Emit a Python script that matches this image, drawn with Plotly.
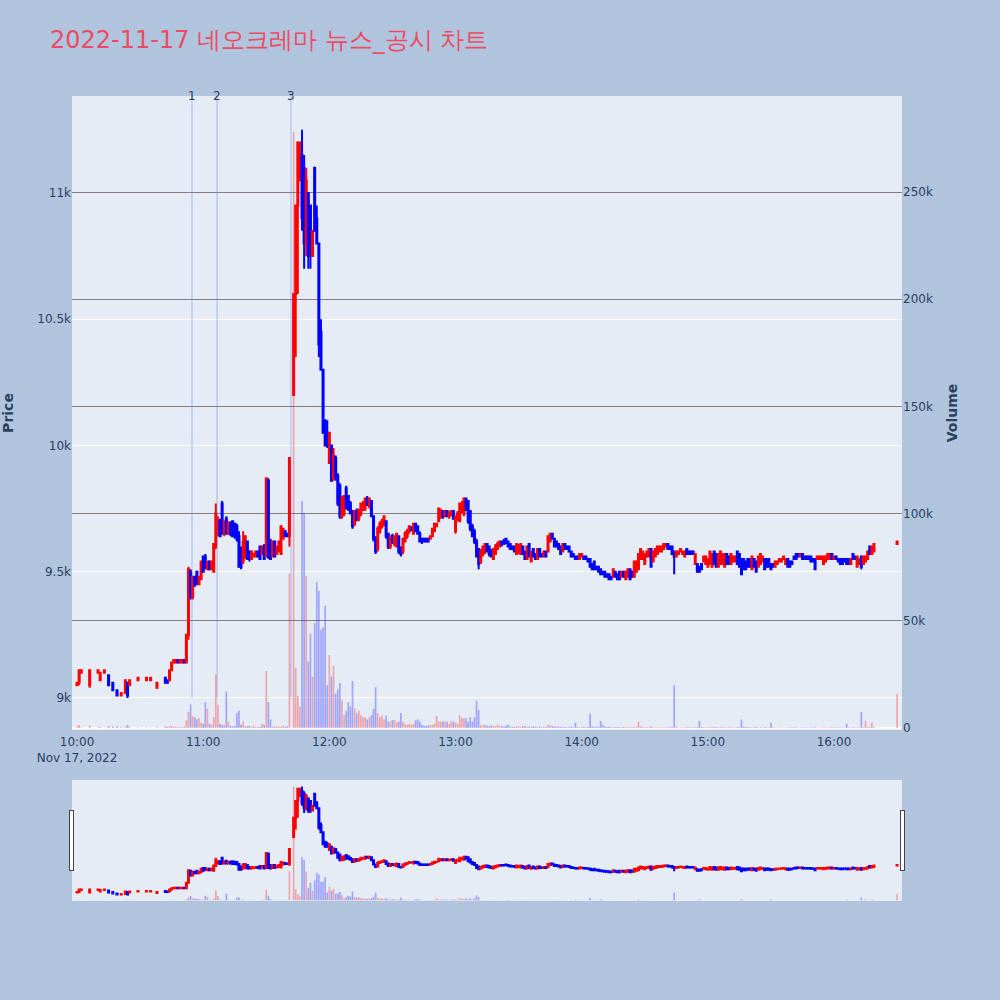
import plotly.graph_objects as go
from plotly.subplots import make_subplots

DAY = "2022-11-17"
TITLE = "2022-11-17 네오크레마 뉴스_공시 차트"

times = [
    "10:00", "10:01", "10:02", "10:06", "10:10", "10:11", "10:13", "10:15", "10:17", "10:19",
    "10:21", "10:23", "10:24", "10:25", "10:29", "10:33", "10:35", "10:38", "10:42", "10:43",
    "10:44", "10:45", "10:46", "10:47", "10:48", "10:49", "10:50", "10:51", "10:52", "10:53",
    "10:54", "10:55", "10:56", "10:57", "10:58", "10:59", "11:00", "11:01", "11:02", "11:03",
    "11:04", "11:05", "11:06", "11:07", "11:08", "11:09", "11:10", "11:11", "11:12", "11:13",
    "11:14", "11:15", "11:16", "11:17", "11:18", "11:19", "11:20", "11:21", "11:22", "11:23",
    "11:24", "11:25", "11:26", "11:27", "11:28", "11:29", "11:30", "11:31", "11:32", "11:33",
    "11:34", "11:35", "11:36", "11:37", "11:38", "11:39", "11:40", "11:41",
    "11:43", "11:44", "11:45", "11:46", "11:47", "11:48", "11:49", "11:50", "11:51", "11:52",
    "11:53", "11:54", "11:55", "11:56", "11:57", "11:58", "11:59", "12:00", "12:01", "12:02",
    "12:03", "12:04", "12:05", "12:06", "12:07", "12:08", "12:09", "12:10", "12:11", "12:12",
    "12:13", "12:14", "12:15", "12:16", "12:17", "12:18", "12:19", "12:20", "12:21", "12:22",
    "12:23", "12:24", "12:25", "12:26", "12:27", "12:28", "12:29", "12:30", "12:31", "12:32",
    "12:33", "12:34", "12:35", "12:36", "12:37", "12:38", "12:39", "12:40", "12:41", "12:42",
    "12:43", "12:44", "12:45", "12:46", "12:47", "12:48", "12:49", "12:50", "12:51", "12:52",
    "12:53", "12:54", "12:55", "12:56", "12:57", "12:58", "12:59", "13:00", "13:01", "13:02",
    "13:03", "13:04", "13:05", "13:06", "13:07", "13:08", "13:09", "13:10", "13:11", "13:12",
    "13:13", "13:14", "13:15", "13:16", "13:17", "13:18", "13:19", "13:20", "13:21", "13:22",
    "13:23", "13:24", "13:25", "13:26", "13:27", "13:28", "13:29", "13:30", "13:31", "13:32",
    "13:33", "13:34", "13:35", "13:36", "13:37", "13:38", "13:39", "13:40", "13:41", "13:42",
    "13:43", "13:44", "13:45", "13:46", "13:47", "13:48", "13:49", "13:50", "13:51", "13:52",
    "13:53", "13:54", "13:55", "13:56", "13:57", "13:58", "13:59", "14:00", "14:01", "14:02",
    "14:03", "14:04", "14:05", "14:06", "14:07", "14:08", "14:09", "14:10", "14:11", "14:12",
    "14:13", "14:14", "14:15", "14:16", "14:17", "14:18", "14:19", "14:20", "14:21", "14:22",
    "14:23", "14:24", "14:25", "14:26", "14:27", "14:28", "14:29", "14:30", "14:31", "14:32",
    "14:33", "14:34", "14:35", "14:36", "14:37", "14:38", "14:39", "14:40", "14:41", "14:42",
    "14:43", "14:44", "14:45", "14:46", "14:47", "14:48", "14:49", "14:50", "14:51", "14:52",
    "14:53", "14:54", "14:55", "14:56", "14:57", "14:58", "14:59", "15:00", "15:01", "15:02",
    "15:03", "15:04", "15:05", "15:06", "15:07", "15:08", "15:09", "15:10", "15:11", "15:12",
    "15:13", "15:14", "15:15", "15:16", "15:17", "15:18", "15:19", "15:20", "15:21", "15:22",
    "15:23", "15:24", "15:25", "15:26", "15:27", "15:28", "15:29", "15:30", "15:31", "15:32",
    "15:33", "15:34", "15:35", "15:36", "15:37", "15:38", "15:39", "15:40", "15:41", "15:42",
    "15:43", "15:44", "15:45", "15:46", "15:47", "15:48", "15:49", "15:50", "15:51", "15:52",
    "15:53", "15:54", "15:55", "15:56", "15:57", "15:58", "15:59", "16:00", "16:01", "16:02",
    "16:03", "16:04", "16:05", "16:06", "16:07", "16:08", "16:09", "16:10", "16:11", "16:12",
    "16:13", "16:14", "16:15", "16:16", "16:17", "16:18", "16:19", "16:30",
]

opens = [
    9050, 9060, 9100, 9050, 9100, 9070, 9100, 9090, 9060, 9030,
    9010, 9020, 9060, 9050, 9070, 9070, 9070, 9040, 9080, 9070,
    9070, 9110, 9140, 9140, 9150, 9140, 9140, 9150, 9140, 9250,
    9500, 9400, 9480, 9500, 9450, 9470, 9560, 9560, 9510, 9540,
    9510, 9500, 9600, 9650, 9700, 9770, 9650, 9710, 9650, 9690,
    9700, 9690, 9680, 9640, 9590, 9540, 9560, 9620, 9580, 9550,
    9560, 9560, 9580, 9600, 9570, 9600, 9560, 9860, 9620, 9560,
    9620, 9570, 9580, 9570, 9630, 9660, 9650, 9640,
    10200, 10600, 10950, 11050, 11150, 11100, 10800, 11000, 10950, 10750,
    11100, 10900, 10800, 10450, 10300, 10100, 10050, 9930, 10000, 9870,
    9950, 9880, 9840, 9720, 9730, 9830, 9800, 9770, 9740, 9690,
    9740, 9710, 9730, 9750, 9750, 9790, 9760, 9780, 9720, 9630,
    9590, 9660, 9680, 9690, 9700, 9650, 9600, 9640, 9610, 9600,
    9640, 9580, 9580, 9620, 9640, 9660, 9670, 9650, 9690, 9680,
    9650, 9630, 9630, 9630, 9630, 9630, 9640, 9660, 9680, 9700,
    9720, 9740, 9720, 9740, 9720, 9730, 9740, 9660, 9710, 9700,
    9740, 9730, 9790, 9780, 9740, 9680, 9660, 9620, 9590, 9540,
    9570, 9580, 9610, 9600, 9580, 9550, 9570, 9590, 9600, 9620,
    9620, 9630, 9620, 9610, 9600, 9600, 9570, 9580, 9570, 9600,
    9580, 9550, 9610, 9540, 9590, 9570, 9550, 9590, 9570, 9560,
    9580, 9580, 9620, 9650, 9630, 9620, 9610, 9600, 9580, 9610,
    9600, 9600, 9580, 9570, 9560, 9560, 9550, 9560, 9560, 9560,
    9550, 9550, 9530, 9540, 9520, 9520, 9510, 9500, 9500, 9490,
    9490, 9480, 9480, 9500, 9490, 9500, 9480, 9500, 9470, 9480,
    9510, 9500, 9480, 9500, 9510, 9550, 9550, 9530, 9560, 9560,
    9590, 9540, 9560, 9570, 9580, 9580, 9590, 9600, 9610, 9600,
    9600, 9580, 9560, 9570, 9580, 9570, 9560, 9590, 9580, 9580,
    9580, 9530, 9530, 9520, 9530, 9540, 9530, 9520, 9530, 9520,
    9580, 9570, 9520, 9530, 9530, 9520, 9570, 9560, 9530, 9540,
    9540, 9580, 9570, 9550, 9550, 9540, 9550, 9550, 9510, 9550,
    9540, 9520, 9530, 9540, 9550, 9550, 9550, 9530, 9530, 9520,
    9530, 9540, 9540, 9550, 9530, 9550, 9540, 9540, 9560, 9570,
    9570, 9560, 9570, 9560, 9560, 9560, 9560, 9550, 9550, 9550,
    9550, 9550, 9530, 9540, 9550, 9550, 9570, 9550, 9560, 9550,
    9550, 9550, 9550, 9550, 9550, 9530, 9570, 9560, 9520, 9530,
    9560, 9530, 9540, 9550, 9600, 9570, 9580, 9610,
]

highs = [
    9060, 9110, 9110, 9110, 9110, 9100, 9110, 9090, 9060, 9030,
    9020, 9070, 9060, 9070, 9080, 9080, 9080, 9060, 9080, 9070,
    9110, 9140, 9150, 9150, 9150, 9150, 9150, 9150, 9250, 9520,
    9510, 9480, 9480, 9500, 9480, 9540, 9560, 9570, 9540, 9540,
    9540, 9610, 9770, 9720, 9710, 9780, 9700, 9720, 9700, 9700,
    9700, 9690, 9690, 9660, 9600, 9660, 9640, 9620, 9580, 9580,
    9570, 9580, 9580, 9600, 9600, 9610, 9870, 9870, 9630, 9620,
    9620, 9600, 9620, 9680, 9670, 9660, 9650, 9950,
    10600, 10950, 11200, 11200, 11250, 11150, 11100, 11000, 10950, 10850,
    11100, 10950, 10800, 10500, 10300, 10100, 10100, 10050, 10000, 9990,
    9960, 9890, 9850, 9800, 9800, 9840, 9800, 9780, 9740, 9740,
    9750, 9750, 9770, 9780, 9790, 9800, 9790, 9780, 9720, 9640,
    9680, 9700, 9710, 9720, 9700, 9650, 9640, 9650, 9640, 9650,
    9640, 9600, 9630, 9660, 9670, 9680, 9680, 9690, 9690, 9680,
    9660, 9630, 9630, 9630, 9630, 9640, 9670, 9690, 9690, 9750,
    9750, 9740, 9740, 9740, 9740, 9740, 9740, 9720, 9740, 9770,
    9780, 9790, 9790, 9780, 9740, 9690, 9670, 9630, 9590, 9590,
    9600, 9610, 9610, 9600, 9590, 9590, 9610, 9620, 9620, 9620,
    9630, 9630, 9620, 9610, 9600, 9600, 9610, 9610, 9610, 9600,
    9580, 9600, 9610, 9580, 9590, 9570, 9590, 9590, 9570, 9580,
    9580, 9640, 9650, 9650, 9630, 9620, 9610, 9600, 9610, 9610,
    9600, 9600, 9580, 9570, 9560, 9560, 9570, 9570, 9560, 9560,
    9550, 9550, 9530, 9540, 9520, 9520, 9510, 9500, 9500, 9490,
    9490, 9480, 9510, 9500, 9490, 9500, 9500, 9500, 9500, 9510,
    9510, 9500, 9540, 9540, 9570, 9590, 9580, 9570, 9580, 9590,
    9590, 9580, 9590, 9600, 9600, 9600, 9610, 9610, 9610, 9600,
    9600, 9580, 9580, 9580, 9590, 9580, 9580, 9590, 9580, 9580,
    9580, 9570, 9530, 9520, 9530, 9560, 9560, 9550, 9580, 9570,
    9580, 9570, 9570, 9580, 9570, 9570, 9570, 9560, 9570, 9560,
    9560, 9580, 9570, 9550, 9550, 9540, 9550, 9550, 9560, 9550,
    9540, 9560, 9570, 9560, 9550, 9550, 9550, 9530, 9530, 9540,
    9540, 9550, 9550, 9560, 9550, 9550, 9540, 9540, 9560, 9570,
    9570, 9570, 9570, 9560, 9560, 9560, 9560, 9550, 9550, 9560,
    9560, 9560, 9560, 9560, 9570, 9570, 9570, 9560, 9560, 9550,
    9550, 9550, 9550, 9550, 9550, 9550, 9570, 9560, 9560, 9550,
    9560, 9560, 9560, 9580, 9600, 9600, 9610, 9620,
]

lows = [
    9050, 9050, 9100, 9040, 9100, 9070, 9100, 9050, 9030, 9010,
    9010, 9020, 9000, 9050, 9070, 9070, 9070, 9040, 9060, 9060,
    9070, 9110, 9140, 9140, 9140, 9140, 9140, 9140, 9140, 9230,
    9390, 9390, 9440, 9450, 9450, 9470, 9500, 9510, 9510, 9510,
    9510, 9500, 9590, 9640, 9640, 9650, 9640, 9650, 9650, 9640,
    9640, 9630, 9620, 9520, 9510, 9530, 9550, 9550, 9540, 9550,
    9560, 9560, 9560, 9550, 9570, 9550, 9560, 9550, 9550, 9560,
    9560, 9570, 9580, 9570, 9630, 9640, 9640, 9600,
    10200, 10350, 10600, 11050, 10850, 10700, 10750, 10700, 10700, 10750,
    10850, 10800, 10350, 10300, 10050, 10000, 9990, 9930, 9860, 9860,
    9860, 9760, 9710, 9710, 9720, 9750, 9740, 9730, 9670, 9680,
    9700, 9700, 9720, 9740, 9740, 9760, 9750, 9720, 9620, 9570,
    9580, 9650, 9670, 9680, 9630, 9590, 9590, 9610, 9600, 9600,
    9570, 9560, 9570, 9620, 9630, 9650, 9660, 9650, 9660, 9650,
    9620, 9610, 9620, 9620, 9620, 9630, 9640, 9660, 9680, 9700,
    9710, 9710, 9720, 9720, 9710, 9720, 9710, 9650, 9700, 9700,
    9730, 9720, 9740, 9690, 9660, 9640, 9610, 9560, 9510, 9530,
    9560, 9570, 9580, 9560, 9560, 9550, 9570, 9590, 9600, 9600,
    9610, 9610, 9600, 9590, 9590, 9580, 9570, 9570, 9570, 9570,
    9550, 9550, 9560, 9540, 9560, 9550, 9550, 9560, 9560, 9560,
    9560, 9580, 9620, 9630, 9600, 9600, 9590, 9570, 9580, 9590,
    9590, 9580, 9560, 9560, 9550, 9550, 9550, 9560, 9550, 9550,
    9540, 9520, 9510, 9510, 9510, 9500, 9490, 9490, 9480, 9480,
    9470, 9470, 9480, 9480, 9470, 9470, 9480, 9480, 9470, 9480,
    9470, 9480, 9480, 9500, 9510, 9550, 9550, 9530, 9560, 9560,
    9520, 9540, 9560, 9570, 9580, 9580, 9590, 9600, 9590, 9590,
    9570, 9490, 9560, 9570, 9580, 9570, 9560, 9570, 9570, 9570,
    9570, 9530, 9500, 9500, 9510, 9540, 9530, 9520, 9530, 9520,
    9530, 9520, 9520, 9530, 9530, 9520, 9530, 9530, 9530, 9540,
    9540, 9530, 9520, 9490, 9510, 9510, 9520, 9520, 9510, 9520,
    9500, 9520, 9530, 9540, 9510, 9520, 9520, 9510, 9520, 9520,
    9530, 9540, 9540, 9550, 9530, 9520, 9520, 9530, 9550, 9550,
    9560, 9560, 9550, 9550, 9550, 9550, 9540, 9540, 9510, 9550,
    9550, 9550, 9530, 9540, 9550, 9550, 9550, 9550, 9550, 9540,
    9530, 9530, 9540, 9530, 9530, 9530, 9550, 9550, 9520, 9530,
    9510, 9530, 9540, 9550, 9570, 9570, 9580, 9610,
]

closes = [
    9060, 9110, 9110, 9110, 9110, 9100, 9110, 9050, 9030, 9010,
    9020, 9070, 9010, 9070, 9080, 9080, 9080, 9060, 9060, 9060,
    9110, 9140, 9150, 9150, 9140, 9150, 9150, 9140, 9250, 9510,
    9400, 9480, 9450, 9450, 9480, 9540, 9500, 9520, 9540, 9510,
    9540, 9610, 9730, 9700, 9640, 9650, 9700, 9650, 9690, 9650,
    9640, 9640, 9630, 9520, 9520, 9620, 9640, 9550, 9550, 9580,
    9570, 9580, 9560, 9550, 9600, 9550, 9870, 9560, 9550, 9620,
    9560, 9600, 9620, 9680, 9670, 9640, 9640, 9950,
    10600, 10950, 11200, 11200, 10900, 10800, 11050, 10750, 10800, 10850,
    10850, 10800, 10400, 10300, 10050, 10000, 10000, 10050, 9860, 9960,
    9880, 9770, 9720, 9790, 9800, 9750, 9750, 9730, 9680, 9740,
    9710, 9740, 9770, 9760, 9790, 9770, 9790, 9720, 9630, 9580,
    9670, 9690, 9700, 9720, 9640, 9600, 9640, 9620, 9640, 9650,
    9580, 9570, 9630, 9650, 9660, 9680, 9670, 9690, 9660, 9650,
    9620, 9620, 9620, 9620, 9620, 9640, 9670, 9690, 9690, 9750,
    9740, 9720, 9740, 9720, 9730, 9740, 9710, 9720, 9730, 9770,
    9760, 9790, 9750, 9700, 9670, 9640, 9620, 9560, 9530, 9580,
    9600, 9610, 9580, 9570, 9560, 9590, 9600, 9610, 9620, 9610,
    9610, 9620, 9600, 9590, 9590, 9580, 9610, 9600, 9610, 9570,
    9550, 9600, 9560, 9580, 9560, 9550, 9590, 9560, 9560, 9580,
    9560, 9640, 9650, 9630, 9600, 9600, 9590, 9570, 9610, 9590,
    9590, 9580, 9560, 9560, 9550, 9550, 9570, 9570, 9550, 9550,
    9540, 9520, 9510, 9510, 9510, 9500, 9490, 9490, 9480, 9480,
    9470, 9470, 9510, 9480, 9470, 9470, 9500, 9480, 9500, 9510,
    9470, 9480, 9540, 9540, 9570, 9590, 9580, 9570, 9580, 9590,
    9520, 9580, 9590, 9600, 9600, 9600, 9610, 9610, 9590, 9590,
    9570, 9560, 9580, 9580, 9590, 9580, 9580, 9570, 9570, 9570,
    9570, 9570, 9500, 9500, 9510, 9560, 9560, 9550, 9580, 9570,
    9530, 9520, 9570, 9580, 9570, 9570, 9530, 9530, 9570, 9560,
    9560, 9530, 9520, 9490, 9510, 9510, 9520, 9520, 9560, 9520,
    9500, 9560, 9570, 9560, 9510, 9520, 9520, 9510, 9520, 9540,
    9540, 9550, 9550, 9560, 9550, 9520, 9520, 9530, 9550, 9550,
    9560, 9570, 9550, 9550, 9550, 9550, 9540, 9540, 9510, 9560,
    9560, 9560, 9560, 9560, 9570, 9570, 9550, 9560, 9550, 9540,
    9530, 9530, 9540, 9530, 9530, 9550, 9550, 9550, 9560, 9550,
    9520, 9560, 9560, 9580, 9570, 9600, 9610, 9620,
]

volumes = [
    800, 1500, 400, 1200, 300, 600, 200, 900, 700, 800,
    500, 700, 1500, 600, 200, 300, 200, 500, 700, 500,
    800, 900, 600, 500, 400, 500, 400, 600, 3700, 7500,
    11000, 5600, 5000, 4000, 4500, 2500, 2000, 12000, 9000, 2000,
    1500, 5000, 25000, 11000, 2000, 1500, 1500, 17000, 3000, 1000,
    800, 1000, 7000, 8000, 1500, 3000, 1000, 800, 1000, 600,
    1000, 500, 500, 600, 2000, 1500, 26600, 12000, 4000, 800,
    600, 500, 700, 600, 1000, 600, 800, 72000,
    278000, 28000, 15000, 10000, 106000, 100000, 71000, 31000, 44000, 24000,
    49000, 68000, 64000, 46000, 47000, 57000, 20000, 34000, 24000, 29000,
    16000, 18000, 21000, 13000, 6000, 8000, 12000, 10000, 22000, 9000,
    7000, 8000, 6000, 5000, 5000, 4000, 5000, 6000, 9000, 19000,
    7000, 5000, 6000, 4000, 5700, 3000, 3000, 3700, 3700, 2600,
    3000, 7000, 3000, 2000, 1500, 2000, 1500, 2000, 3500, 4000,
    3000, 1500, 1000, 1000, 1200, 1500, 1500, 2000, 5700, 3000,
    3000, 3000, 3000, 3000, 2000, 3000, 3000, 2500, 2000, 6000,
    4500, 4500, 4500, 3000, 5000, 3000, 5000, 12700, 8400, 1500,
    1200, 1500, 1000, 800, 1200, 1000, 900, 1500, 1000, 800,
    700, 1000, 1500, 600, 500, 500, 800, 800, 600, 700,
    900, 600, 700, 500, 800, 600, 500, 700, 400, 600,
    500, 1500, 1200, 900, 800, 600, 700, 500, 600, 500,
    400, 500, 600, 400, 2400, 500, 400, 600, 500, 400,
    500, 6700, 800, 600, 500, 600, 3300, 1500, 700, 500,
    600, 400, 500, 400, 500, 400, 400, 500, 400, 500,
    400, 300, 600, 500, 3000, 800, 500, 400, 500, 400,
    600, 400, 300, 400, 300, 400, 300, 400, 300, 400,
    500, 20000, 800, 300, 300, 400, 300, 400, 300, 300,
    400, 500, 400, 3400, 500, 400, 300, 400, 500, 400,
    500, 400, 400, 500, 400, 400, 300, 400, 300, 400,
    300, 500, 400, 4000, 600, 500, 400, 300, 400, 300,
    500, 300, 400, 300, 400, 300, 300, 2600, 300, 300,
    200, 300, 200, 200, 300, 200, 300, 200, 300, 300,
    200, 300, 300, 200, 300, 200, 300, 200, 400, 200,
    200, 200, 300, 300, 300, 300, 300, 300, 200, 300,
    300, 200, 200, 2000, 300, 200, 300, 200, 300, 300,
    7500, 400, 3300, 500, 400, 2600, 600, 15800,
]

news_times = ["10:54:40", "11:06:35", "11:41:45"]
news_labels = ["1", "2", "3"]

price_range = [8873, 11384]
volume_range = [-930, 294800]
x_range = [f"{DAY} 09:57:36", f"{DAY} 16:32:20"]

FONT = "DejaVu Sans"

n = len(times)
assert all(len(a) == n for a in (opens, highs, lows, closes, volumes)), \
    [len(a) for a in (times, opens, highs, lows, closes, volumes)]

x = [f"{DAY} {t}" for t in times]

fig = make_subplots(specs=[[{"secondary_y": True}]])

fig.add_trace(
    go.Candlestick(
        x=x, open=opens, high=highs, low=lows, close=closes,
        increasing=dict(line=dict(color="red", width=2), fillcolor="red"),
        decreasing=dict(line=dict(color="blue", width=2), fillcolor="blue"),
        name="Price", showlegend=False,
    ),
    secondary_y=False,
)

bar_colors = ["rgba(255,0,0,0.3)" if c >= o else "rgba(0,0,255,0.3)"
              for o, c in zip(opens, closes)]
fig.add_trace(
    go.Bar(x=x, y=volumes, marker=dict(color=bar_colors, line=dict(width=0)),
           name="Volume", showlegend=False),
    secondary_y=True,
)

low_min = min(lows)
for t, lab in zip(news_times, news_labels):
    xt = f"{DAY} {t}"
    fig.add_shape(type="line", xref="x", yref="y", x0=xt, x1=xt,
                  y0=low_min, y1=price_range[1],
                  line=dict(color="rgba(65,105,225,0.4)", width=1))
    fig.add_annotation(x=xt, xref="x", y=1, yref="paper", text=lab,
                       showarrow=False, yanchor="middle",
                       font=dict(size=12, color="#2a3f5f", family=FONT))

fig.update_layout(
    width=1000, height=1000,
    font=dict(family=FONT),
    paper_bgcolor="#B0C4DE",
    plot_bgcolor="#E5ECF6",
    margin=dict(l=72, r=98, t=96, b=100),
    showlegend=False,
    title=dict(text=TITLE, x=0.05, xanchor="left", y=0.96, yanchor="middle",
               yref="container", font=dict(size=24, color="#EC4C63", family=FONT)),
    xaxis=dict(type="date", range=x_range, showgrid=False, dtick=3600000,
               domain=[0, 1], ticklabelstandoff=3,
               rangeslider=dict(visible=True, bgcolor="#E5ECF6", thickness=0.15)),
    bargap=0.2,
)
fig.update_yaxes(title=dict(text="<b>Price</b>", standoff=20), range=price_range,
                 gridcolor="white", automargin=False, secondary_y=False)
fig.update_yaxes(title_text="<b>Volume</b>", range=volume_range, gridcolor="grey",
                 showgrid=True, automargin=False, secondary_y=True)

fig.write_html("out.html",
               config={"displayModeBar": False},
               post_script="document.body.style.margin='0';document.body.style.overflow='hidden';")
